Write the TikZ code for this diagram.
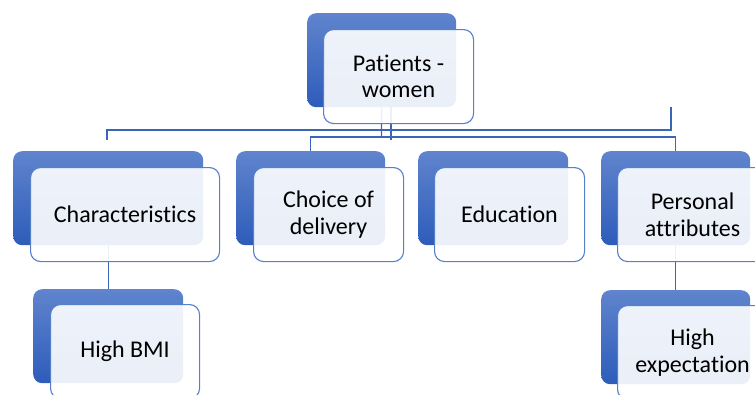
\documentclass[tikz,border=0pt]{standalone}
\usepackage{fontspec}
\setmainfont{Carlito}[Ligatures={NoCommon,NoContextual}]
\usetikzlibrary{backgrounds}
\definecolor{bkTop}{RGB}{96,132,205}
\definecolor{bkBot}{RGB}{45,92,186}
\definecolor{frFill}{RGB}{255,255,255}
\definecolor{frBorder}{RGB}{85,128,202}
\definecolor{lnCol}{RGB}{59,102,181}
\begin{document}
\begin{tikzpicture}[x=1pt,y=-1pt,
  backbox/.style={draw=none, rounded corners=9pt, top color=bkTop, bottom color=bkBot,
    inner sep=0pt, minimum height=94pt, anchor=north west},
  frontbox/.style={draw=frBorder, line width=1.1pt, fill=frFill, fill opacity=0.9,
    text opacity=1, rounded corners=10pt, inner sep=0pt, minimum height=94pt,
    anchor=north west, align=center, font=\fontsize{24}{26.5}\selectfont},
  conn/.style={draw=lnCol, line width=1.3pt}]
\useasboundingbox (0,0) rectangle (755,394);

% top
\node[backbox, minimum width=149pt] (tb) at (307,13) {};
\node[frontbox, minimum width=150pt] (tf) at (323,29) {Patients -\\women};

% level 2
\node[backbox, minimum width=190pt] (chb) at (13,151) {};
\node[frontbox, minimum width=189pt] (chf) at (30,167) {Characteristics};
\node[backbox, minimum width=149pt] (cob) at (236,151) {};
\node[frontbox, minimum width=150pt] (cof) at (253,167) {Choice of\\delivery};
\node[backbox, minimum width=150pt] (edb) at (418,151) {};
\node[frontbox, minimum width=150pt] (edf) at (434,167) {Education};
\node[backbox, minimum width=149pt] (pab) at (601,151) {};
\node[frontbox, minimum width=150pt] (paf) at (617,167) {Personal\\attributes};

% level 3
\node[backbox, minimum width=150pt] (hbb) at (33,289) {};
\node[frontbox, minimum width=149pt] (hbf) at (50,304) {High BMI};
\node[backbox, minimum width=149pt] (heb) at (601,290) {};
\node[frontbox, minimum width=150pt] (hef) at (617,305) {High\\expectation};

% connectors
\coordinate (busA) at (381.5,137);
\coordinate (b1) at (107,140);
\coordinate (b2) at (107,130);
\coordinate (b3) at (671,130);
\coordinate (b4) at (671,107);
\coordinate (b5) at (391,107);
\coordinate (b6) at (391,140);
\begin{scope}[on background layer]
  \draw[conn] (tb.south) -- (busA);
  \draw[conn] (cob.north) -- (cob.north |- busA) -- (pab.north |- busA) -- (pab.north);
  \draw[conn] (b1) -- (b2) -- (b3) -- (b4);
  \draw[conn] (b5) -- (b6);
  \draw[conn] (chb.south) -- (hbb.north);
  \draw[conn] (pab.south) -- (heb.north);
\end{scope}
\end{tikzpicture}
\end{document}
